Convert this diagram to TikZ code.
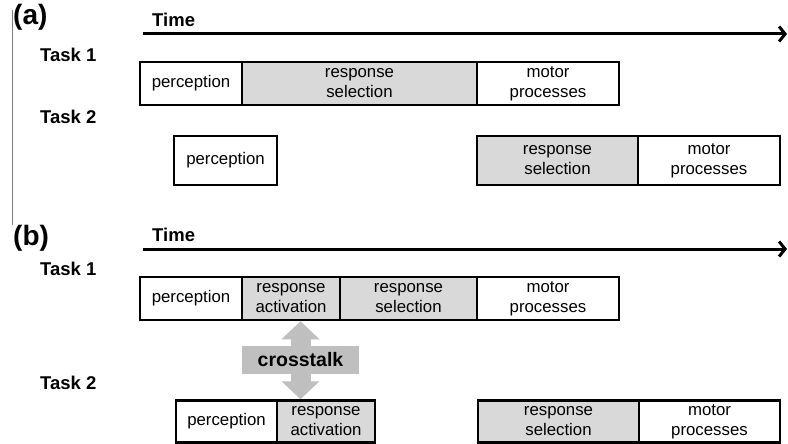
\documentclass[tikz,border=0pt]{standalone}
\usepackage{fontspec}
\setmainfont{Liberation Sans}
\usetikzlibrary{arrows.meta}
\definecolor{boxgray}{HTML}{D9D9D9}
\definecolor{talkgray}{HTML}{BFBFBF}

\begin{document}
\begin{tikzpicture}[x=1pt,y=-1pt,
  every text node part/.style={align=center},
  stage/.style={draw,line width=2.5pt,inner sep=0pt,font=\fontsize{16.8}{20}\selectfont},
  sel/.style={stage,fill=boxgray},
  lbl/.style={anchor=west,inner sep=0pt,font=\fontsize{18.5}{22}\selectfont\bfseries},
  panel/.style={anchor=west,inner sep=0pt,font=\fontsize{28}{32}\selectfont\bfseries},
  timeline/.style={line width=3pt,-{Straight Barb[length=6pt,width=15pt]}},
  talk/.style={line width=20pt,talkgray,-{Triangle[length=18pt,width=37pt]}}]

\useasboundingbox(0,0)rectangle(788,444);

\draw[gray,line width=0.8pt](12,10)--(12,225);

% (a)
\node[panel](pa) at (13,17){(a)};
\node[lbl](timea) at (152,20){Time};
\coordinate(ta0) at (143,34);
\coordinate(ta1) at (787,34);
\draw[timeline](ta0)--(ta1);

\node[lbl](a1) at (40,55){Task 1};
\node[stage,minimum width=102pt,minimum height=43pt](a1p) at (191,83.5){perception};
\node[sel,minimum width=235pt,minimum height=43pt](a1rs) at (359.5,83.5){response\\selection};
\node[stage,minimum width=142pt,minimum height=43pt](a1mp) at (548,83.5){motor\\processes};

\node[lbl](a2) at (40,117){Task 2};
\node[stage,minimum width=103pt,minimum height=49pt](a2p) at (225.5,160.5){perception};
\node[sel,minimum width=161pt,minimum height=49pt](a2rs) at (557.5,160.5){response\\selection};
\node[stage,minimum width=142pt,minimum height=49pt](a2mp) at (709,160.5){motor\\processes};

% (b)
\node[panel](pb) at (13,238){(b)};
\node[lbl](timeb) at (152,235){Time};
\coordinate(tb0) at (143,249);
\coordinate(tb1) at (787,249);
\draw[timeline](tb0)--(tb1);

\node[lbl](b1) at (40,269){Task 1};
\node[stage,minimum width=102pt,minimum height=43pt](b1p) at (191,298.5){perception};
\node[sel,minimum width=98pt,minimum height=43pt](b1ra) at (291,298.5){response\\activation};
\node[sel,minimum width=137pt,minimum height=43pt](b1rs) at (408.5,298.5){response\\selection};
\node[stage,minimum width=142pt,minimum height=43pt](b1mp) at (548,298.5){motor\\processes};

\node[lbl](b2) at (40,383){Task 2};
\node[stage,minimum width=101pt,minimum height=42pt](b2p) at (226.5,421.5){perception};
\node[sel,minimum width=98pt,minimum height=42pt](b2ra) at (326,421.5){response\\activation};
\node[sel,minimum width=161pt,minimum height=42pt](b2rs) at (558.5,421.5){response\\selection};
\node[stage,minimum width=141pt,minimum height=42pt](b2mp) at (709.5,421.5){motor\\processes};

\node[fill=talkgray,minimum width=117pt,minimum height=28pt,inner sep=0pt,
  font=\fontsize{19.5}{22}\selectfont\bfseries](xt) at (300.5,360){crosstalk};
\draw[talk](xt.north)--(xt.north|-b1ra.south);
\draw[talk](xt.south)--(xt.south|-b2ra.north);

\end{tikzpicture}
\end{document}
